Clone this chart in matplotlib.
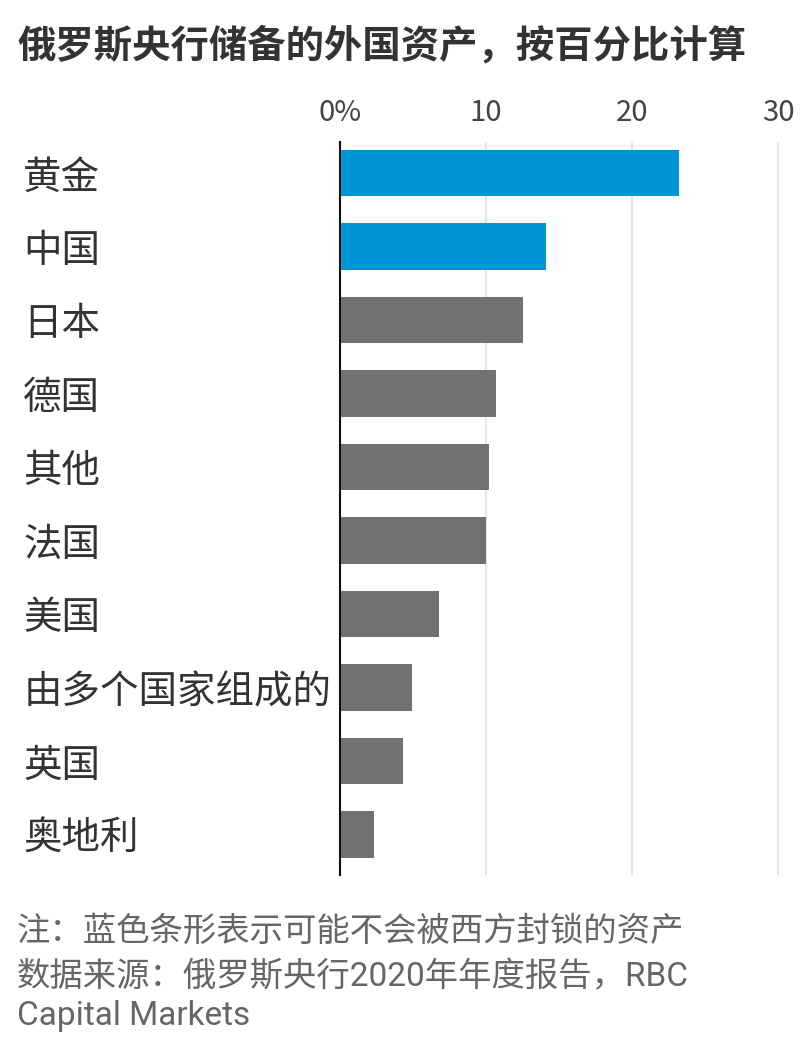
import matplotlib
matplotlib.use("Agg")
import matplotlib.pyplot as plt

plt.rcParams['font.family'] = ['Noto Sans CJK SC', 'DejaVu Sans']

# data (percent of reserves)
categories = ["黄金", "中国", "日本", "德国", "其他", "法国", "美国",
              "由多个国家组成的", "英国", "奥地利"]
values = [23.2, 14.1, 12.5, 10.7, 10.2, 10.0, 6.8, 4.9, 4.3, 2.3]
unblockable = [True, True, False, False, False, False, False, False, False, False]
tick_vals = [0, 10, 20, 30]
tick_labels = ["0%", "10", "20", "30"]

title = "俄罗斯央行储备的外国资产，按百分比计算"
note = "注：蓝色条形表示可能不会被西方封锁的资产"
source = "数据来源：俄罗斯央行2020年年度报告，RBC\nCapital Markets"

blue = "#0096d6"
grey = "#717171"

fig = plt.figure(figsize=(8, 10.57), dpi=100)
ax = fig.add_axes([0.425, 0.1722, 0.5505, 0.6935])

colors = [blue if b else grey for b in unblockable]
ypos = list(range(len(categories)))
ax.barh(ypos, values, height=0.63, color=colors, zorder=2)

ax.set_xlim(0, 30.15)
ax.set_ylim(len(categories) - 0.45, -0.42)

ax.xaxis.tick_top()
ax.set_xticks(tick_vals)
ax.set_xticklabels(tick_labels, fontsize=21, color="#444444", fontweight="light")
ax.tick_params(axis="x", length=0, pad=10)
ax.grid(axis="x", color="#e6e6e6", linewidth=1.5, zorder=0)

ax.set_yticks(ypos)
ax.set_yticklabels(categories, fontsize=27.7, color="#333333", fontweight="light")
ax.tick_params(axis="y", length=0, pad=228)
for lab in ax.get_yticklabels():
    lab.set_horizontalalignment("left")

for s in ["top", "right", "bottom"]:
    ax.spines[s].set_visible(False)
ax.spines["left"].set_color("#111111")
ax.spines["left"].set_linewidth(1.5)
ax.spines["left"].set_zorder(3)

fig.text(0.022, 0.957, title, fontsize=27.6, fontweight="bold", color="#333333",
         va="center", ha="left")
foot_font = ['Roboto', 'Noto Sans CJK SC']
fig.text(0.021, 0.118, note, fontsize=24, color="#666666", va="center", ha="left",
         family=foot_font)
fig.text(0.021, 0.057, source, fontsize=24, color="#666666", va="center", ha="left",
         linespacing=1.25, family=foot_font)

fig.savefig("out.png", dpi=100)
